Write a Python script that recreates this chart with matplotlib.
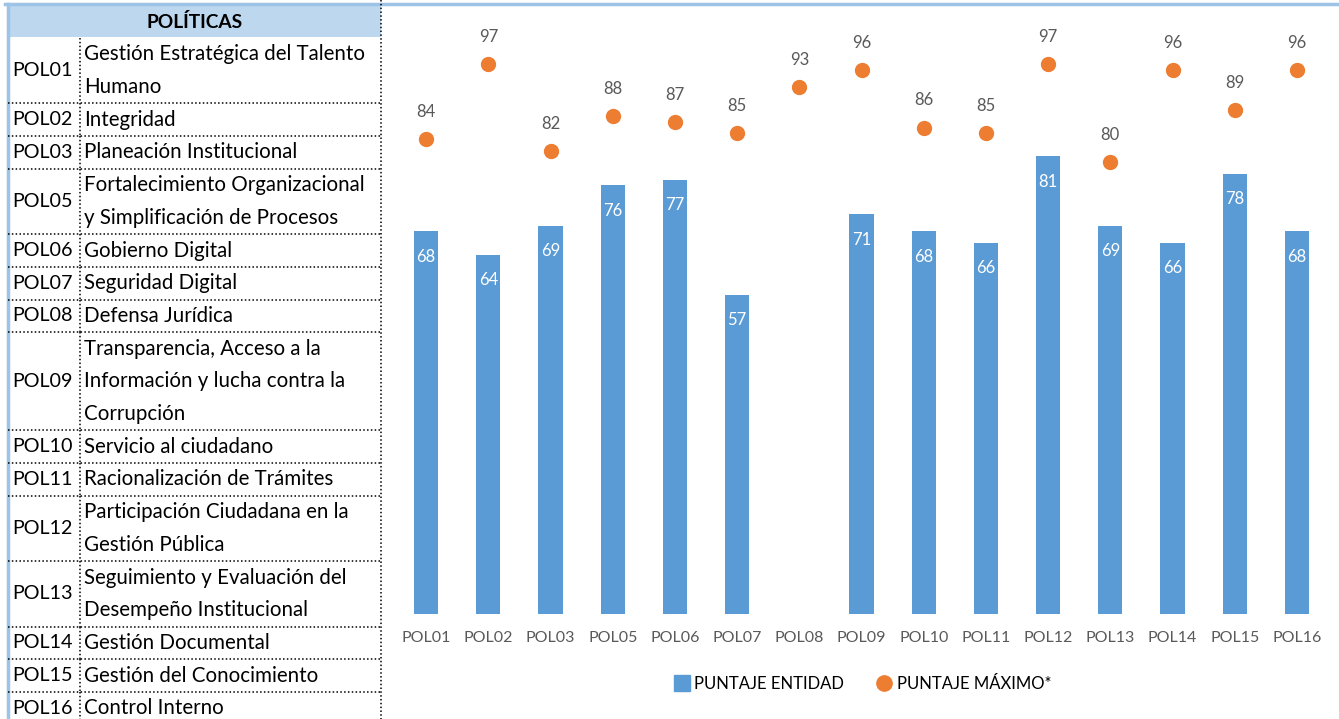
import numpy as np
import matplotlib.pyplot as plt
from matplotlib.lines import Line2D
from matplotlib.patches import Rectangle

codes = ["POL01", "POL02", "POL03", "POL05", "POL06", "POL07", "POL08", "POL09",
         "POL10", "POL11", "POL12", "POL13", "POL14", "POL15", "POL16"]
entidad = [68, 64, 69, 76, 77, 57, np.nan, 71, 68, 66, 81, 69, 66, 78, 68]
maximo = [84, 97, 82, 88, 87, 85, 93, 96, 86, 85, 97, 80, 96, 89, 96]

politicas = [
    ["Gestión Estratégica del Talento", "Humano"],
    ["Integridad"],
    ["Planeación Institucional"],
    ["Fortalecimiento Organizacional", "y Simplificación de Procesos"],
    ["Gobierno Digital"],
    ["Seguridad Digital"],
    ["Defensa Jurídica"],
    ["Transparencia, Acceso a la", "Información y lucha contra la", "Corrupción"],
    ["Servicio al ciudadano"],
    ["Racionalización de Trámites"],
    ["Participación Ciudadana en la", "Gestión Pública"],
    ["Seguimiento y Evaluación del", "Desempeño Institucional"],
    ["Gestión Documental"],
    ["Gestión del Conocimiento"],
    ["Control Interno"],
]

BLUE = "#5B9BD5"
ORANGE = "#ED7D31"
GRAY = "#595959"
W, H = 1339, 719

plt.rcParams["font.family"] = ["Lato", "DejaVu Sans"]
fig = plt.figure(figsize=(W / 100, H / 100), dpi=100)

# table on the left, drawn in pixel coordinates
tab = fig.add_axes([0, 0, 1, 1])
tab.set_xlim(0, W)
tab.set_ylim(H, 0)
tab.axis("off")

dot = dict(color="black", linewidth=1.1, linestyle=(0, (1, 1.5)))
tab.add_patch(Rectangle((8, 5), 373, 32, facecolor="#BDD7EE", edgecolor="none"))
tab.plot([5, W], [4, 4], color="#9DC3E6", linewidth=2.5)
tab.plot([7.5, 7.5], [4, H], color="#9DC3E6", linewidth=2.5)
tab.plot([381, 381], [0, H], **dot)
tab.text(195, 22, "POLÍTICAS", ha="center", va="center", fontsize=13.8,
         fontweight="bold", color="black")

line_h = 32.7
y = 38
for code, lines in zip(codes, politicas):
    h = line_h * len(lines)
    tab.text(12, y + h / 2, code, ha="left", va="center", fontsize=14.2, color="black")
    for j, txt in enumerate(lines):
        tab.text(84, y + line_h * (j + 0.5), txt, ha="left", va="center",
                 fontsize=14.8, color="black")
    tab.plot([80, 80], [y, min(y + h, H)], **dot)
    y += h
    if y < H:
        tab.plot([8, 381], [y, y], **dot)

# chart
ax = fig.add_axes([395 / W, (H - 614) / H, 933 / W, 592 / H])
ax.set_facecolor("none")
x = np.arange(len(codes))
ax.bar(x, entidad, width=0.39, color=BLUE, label="PUNTAJE ENTIDAD")
ax.plot(x, maximo, "o", color=ORANGE, markersize=10, label="PUNTAJE MÁXIMO*")

for xi, v in zip(x, entidad):
    if not np.isnan(v):
        ax.text(xi, v - 4.4, f"{v:.0f}", ha="center", va="center",
                color="white", fontsize=12)
for xi, v in zip(x, maximo):
    ax.text(xi, v + 4.7, f"{v}", ha="center", va="center", color=GRAY, fontsize=12)

ax.set_xlim(-0.5, len(codes) - 0.5)
ax.set_ylim(1.7, 104.3)
ax.set_xticks(x)
ax.set_xticklabels(codes, fontsize=11.5, color=GRAY)
ax.tick_params(axis="x", length=0, pad=12)
ax.set_yticks([])
for s in ax.spines.values():
    s.set_visible(False)

handles = [
    Line2D([], [], marker="s", linestyle="none", color=BLUE, markersize=11),
    Line2D([], [], marker="o", linestyle="none", color=ORANGE, markersize=11),
]
fig.legend(handles, ["PUNTAJE ENTIDAD", "PUNTAJE MÁXIMO*"], loc="center",
           bbox_to_anchor=(863 / W, 1 - 684 / H), ncol=2, frameon=False,
           fontsize=12, labelcolor="black", handlelength=0.8, handletextpad=0.35,
           columnspacing=2.0)

fig.savefig("out.png", dpi=100)
